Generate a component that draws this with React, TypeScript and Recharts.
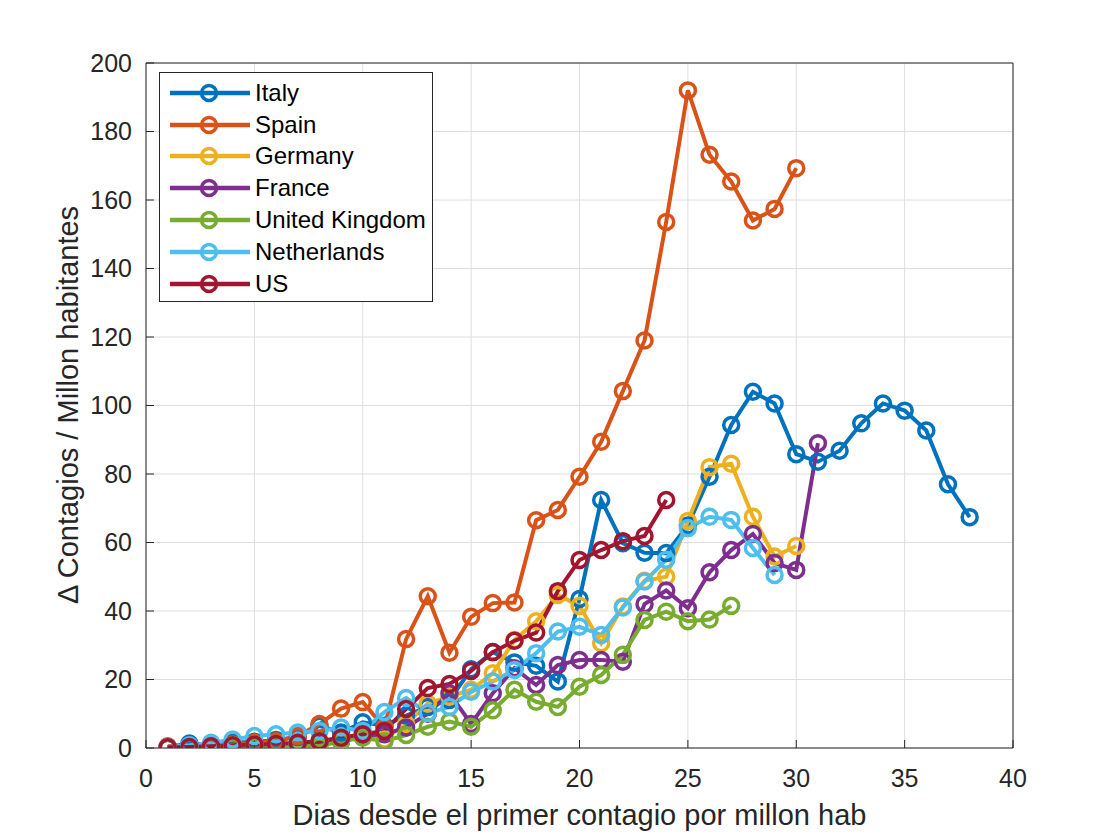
import { LineChart, Line, XAxis, YAxis, CartesianGrid, Legend } from 'recharts';

const FONT = '"Liberation Sans", Arial, Helvetica, sans-serif';
const INK = '#262626';

const X_TICKS = [0, 5, 10, 15, 20, 25, 30, 35, 40];
const Y_TICKS = [0, 20, 40, 60, 80, 100, 120, 140, 160, 180, 200];

// daily new cases per million, one value per day since the first case per million
const ITALY = [
  0.3, 1.3, 1.0, 1.5, 1.8, 2.3, 3.2, 6.5, 4.5, 7.5, 6.5, 9.5, 12, 14, 23, 28, 25, 24, 19.4,
  43.5, 72.4, 59.8, 57, 56.9, 65, 79.2, 94.3, 104, 100.6, 85.8, 83.6, 86.8, 94.8, 100.6,
  98.5, 92.7, 77, 67.4,
];
const SPAIN = [
  0.5, 0.5, 0.8, 1, 1.5, 2, 3.5, 7, 11.5, 13.4, 6, 31.8, 44.3, 27.8, 38.3, 42.3, 42.5,
  66.5, 69.5, 79.2, 89.4, 104.2, 119, 153.6, 192, 173.2, 165.4, 154, 157.4, 169.3,
];
const GERMANY = [
  0.2, 0.3, 0.5, 0.8, 1, 1.2, 1.5, 2, 3, 4, 2.5, 7, 13, 15, 17, 21.8, 31.5, 37, 44.7,
  41.5, 30.6, 41.3, 48.8, 50, 66.3, 82, 83, 67.5, 55.9, 59,
];
const FRANCE = [
  0.1, 0.2, 0.3, 0.5, 0.8, 1, 1.2, 1.5, 2, 3.5, 4, 6, 10, 16, 7, 16, 23.3, 18.4, 24.2,
  25.7, 25.7, 25.2, 42, 46, 40.8, 51.3, 57.8, 62.5, 54, 52, 89,
];
const UK = [
  0.1, 0.2, 0.3, 0.4, 0.5, 0.8, 1, 0.5, 2, 3, 2, 3.8, 6.2, 7.7, 6.2, 11, 17, 13.5, 12,
  17.9, 21.3, 27.2, 37.4, 39.8, 37, 37.5, 41.5,
];
const NETHERLANDS = [
  0.3, 0.8, 1.5, 2.5, 3.5, 4, 4.5, 5, 6, 5, 10.5, 14.6, 10.2, 12, 16.4, 19.4, 22.8, 27.7,
  34, 35.4, 33, 41, 48.6, 55, 64.2, 67.5, 66.6, 58.4, 50.5,
];
const US = [
  0.2, 0.3, 0.5, 0.8, 1, 1.2, 1.5, 2, 3, 4, 5, 11.4, 17.5, 18.7, 22.5, 28, 31.3, 33.7,
  45.8, 54.9, 57.8, 60.4, 61.9, 72.4,
];

const SERIES = [
  { name: 'Italy', color: '#0072BD', values: ITALY },
  { name: 'Spain', color: '#D95319', values: SPAIN },
  { name: 'Germany', color: '#EDB120', values: GERMANY },
  { name: 'France', color: '#7E2F8E', values: FRANCE },
  { name: 'United Kingdom', color: '#77AC30', values: UK },
  { name: 'Netherlands', color: '#4DBEEE', values: NETHERLANDS },
  { name: 'US', color: '#A2142F', values: US },
];

const toPoints = (values: number[]) => values.map((v, i) => ({ day: i + 1, value: v }));

function CountryLegend() {
  return (
    <div
      style={{
        boxSizing: 'border-box',
        width: 274,
        height: 230,
        border: `1px solid ${INK}`,
        background: '#fff',
        paddingTop: 4,
      }}
    >
      {SERIES.map(s => (
        <div key={s.name} style={{ display: 'flex', alignItems: 'center', height: 31.8 }}>
          <svg width={95} height={24} style={{ flex: 'none' }}>
            <line x1={10} y1={12} x2={90} y2={12} stroke={s.color} strokeWidth={4.5} />
            <circle cx={49} cy={12} r={7.5} fill="none" stroke={s.color} strokeWidth={3.5} />
          </svg>
          <span style={{ fontFamily: FONT, fontSize: 24, color: '#000', whiteSpace: 'nowrap' }}>
            {s.name}
          </span>
        </div>
      ))}
    </div>
  );
}

export default function App() {
  return (
    <div style={{ position: 'absolute', left: 0, top: 0, width: 1120, height: 840, background: '#fff', fontFamily: FONT }}>
      <LineChart width={1120} height={840} margin={{ top: 62, right: 106, bottom: 0, left: 0 }}>
        <CartesianGrid stroke="#dedede" strokeWidth={1} />
        <XAxis
          type="number"
          dataKey="day"
          domain={[0, 40]}
          ticks={X_TICKS}
          height={92}
          tickSize={-8}
          tickMargin={29}
          stroke={INK}
          tick={{ fontSize: 25, fill: INK, fontFamily: FONT }}
          allowDataOverflow
          label={{
            value: 'Dias desde el primer contagio por millon hab',
            position: 'insideBottom',
            offset: 15,
            fontSize: 29,
            fill: INK,
            fontFamily: FONT,
          }}
        />
        <XAxis
          xAxisId="top"
          orientation="top"
          type="number"
          domain={[0, 40]}
          ticks={X_TICKS}
          height={1}
          tickSize={-8}
          tick={false}
          stroke={INK}
        />
        <YAxis
          type="number"
          domain={[0, 200]}
          ticks={Y_TICKS}
          width={146}
          tickSize={-8}
          tickMargin={22}
          stroke={INK}
          tick={{ fontSize: 25, fill: INK, fontFamily: FONT }}
          allowDataOverflow
        />
        <YAxis
          yAxisId="right"
          orientation="right"
          type="number"
          domain={[0, 200]}
          ticks={Y_TICKS}
          width={1}
          tickSize={-8}
          tick={false}
          stroke={INK}
        />
        <Legend
          content={<CountryLegend />}
          layout="horizontal"
          verticalAlign="middle"
          align="center"
          wrapperStyle={{ left: 159, top: 72, width: 274, height: 230 }}
        />
        {SERIES.map(s => (
          <Line
            key={s.name}
            data={toPoints(s.values)}
            dataKey="value"
            name={s.name}
            type="linear"
            stroke={s.color}
            strokeWidth={4}
            dot={{ r: 7.5, strokeWidth: 3.5, fill: 'none', stroke: s.color }}
            activeDot={false}
            isAnimationActive={false}
          />
        ))}
      </LineChart>
      <div
        style={{
          position: 'absolute',
          left: 68,
          top: 405,
          transform: 'translate(-50%, -50%) rotate(-90deg)',
          fontSize: 29,
          color: INK,
          whiteSpace: 'nowrap',
          lineHeight: 1,
        }}
      >
        Δ Contagios / Millon habitantes
      </div>
    </div>
  );
}
